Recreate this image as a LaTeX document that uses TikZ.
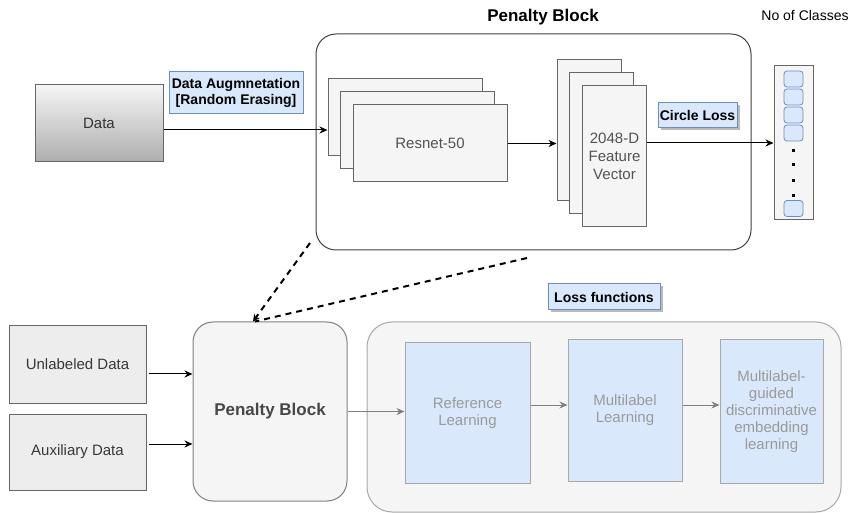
\documentclass[tikz,border=0pt]{standalone}
\usepackage{fontspec}
\setmainfont{Liberation Sans}
\usepackage{tikz}
\usetikzlibrary{arrows.meta,positioning,calc,shadows}
\definecolor{boxgrey}{HTML}{F5F5F5}
\definecolor{edgegrey}{HTML}{666666}
\definecolor{bluefill}{HTML}{DAE8FC}
\definecolor{blueline}{HTML}{6C8EBF}
\definecolor{fadetext}{HTML}{9A9A9A}
\definecolor{fadeline}{HTML}{A8A8A8}

\begin{document}
\begin{tikzpicture}[x=1pt,y=-1pt,
  every node/.style={font=\fontsize{15}{17}\selectfont,inner sep=0pt},
  card/.style={draw=edgegrey,fill=boxgrey,line width=1pt,text=black!68},
  tag/.style={draw=blueline,fill=bluefill,line width=1pt,align=center,
    font=\bfseries\fontsize{14}{16}\selectfont},
  shade/.style={drop shadow={shadow xshift=2.5pt,shadow yshift=-2.5pt,fill=black!45,opacity=.6}},
  lossstep/.style={draw=fadeline,fill=bluefill,line width=1pt,text=fadetext,align=center},
  arr/.style={-{Stealth[length=8pt,width=7pt]},line width=1pt},
  greyarr/.style={arr,draw=black!50}]
  \useasboundingbox (0,0) rectangle (855,513);

  \node[draw=black!75,line width=1pt,rounded corners=20pt,minimum width=435pt,minimum height=216pt] (pen) at (533.5,142) {};
  \node[font=\bfseries\fontsize{17}{19}\selectfont] (pentitle) at (543,17) {Penalty Block};

  \node[draw=edgegrey,line width=1pt,top color=black!4,bottom color=black!32,minimum width=128pt,minimum height=77pt,text=black!80] (data) at (99,123.5) {Data};
  \node[tag,minimum width=134pt,minimum height=42pt] (aug) at (236,93) {Data Augmnetation\\{[Random Erasing]}};

  \foreach \x/\y [count=\i] in {405/117.5,417.5/130.5,430/143.5}
    \node[card,minimum width=154pt,minimum height=77pt] (res\i) at (\x,\y) {};
  \node[text=black!68] (restxt) at (res3) {Resnet-50};

  \foreach \x/\y [count=\i] in {589/130.5,601.5/143,614.5/156}
    \node[card,minimum width=64pt,minimum height=141pt] (feat\i) at (\x,\y) {};
  \node[text=black!68,align=center,font=\fontsize{15}{18}\selectfont] (feattxt) at (feat3) {2048-D\\Feature\\Vector};

  \node[tag,shade,minimum width=79pt,minimum height=25pt] (circ) at (697.5,115.5) {Circle Loss};

  \node (ncls) at (805,15) {\fontsize{14}{16}\selectfont No of Classes};
  \node[card,minimum width=39pt,minimum height=154pt] (cls) at (793.5,143) {};
  \foreach \y [count=\i] in {79,97,115,133,208.5}
    \node[draw=blueline,fill=bluefill,line width=.8pt,rounded corners=3pt,minimum width=19pt,minimum height=16pt] (c\i) at (793.5,\y) {};
  \foreach \y in {151,165,181,196}
    \fill (792,\y-1.5) rectangle ++(3,3);

  \draw[arr] ([yshift=-6.5pt]data.east) coordinate (a1) -- (a1 -| res1.west);
  \draw[arr] (res3.east) -- (res3.east -| feat1.west);
  \draw[arr] (feat3.east |- cls.west) -- (cls.west);

  \node[card,fill=black!7,minimum width=137pt,minimum height=77pt,text=black!78] (unl) at (77.5,364.5) {Unlabeled Data};
  \node[card,fill=black!7,minimum width=137pt,minimum height=76pt,text=black!78,below=10pt of unl] (aux) {Auxiliary Data};
  \node[draw=black!50,fill=boxgrey,line width=1pt,rounded corners=20pt,minimum width=154pt,minimum height=179pt,
    text=black!72,font=\bfseries\fontsize{17}{19}\selectfont] (pb) at (270,411.5) {Penalty Block};

  \node[draw=fadeline,fill=boxgrey,line width=1pt,rounded corners=25pt,minimum width=474pt,minimum height=190pt] (lossbox) at (604,417) {};
  \node[tag,shade,minimum width=112pt,minimum height=26pt] (lossfn) at (604,297) {Loss functions};
  \node[lossstep,minimum width=125pt,minimum height=140pt] (ref) at (467.5,413) {Reference\\Learning};
  \node[lossstep,minimum width=114pt,minimum height=141pt] (mll) at (625,410.5) {Multilabel\\Learning};
  \node[lossstep,minimum width=103pt,minimum height=143pt] (mgd) at (771.5,411.5) {Multilabel-\\guided\\discriminative\\embedding\\learning};

  \draw[arr] ([xshift=2pt,yshift=-9.5pt]unl.east) coordinate (u1) -- (u1 -| pb.west);
  \draw[arr] ([xshift=2pt,yshift=8pt]aux.east) coordinate (u2) -- (u2 -| pb.west);
  \draw[greyarr] (pb.east) -- (pb.east -| ref.west);
  \draw[greyarr] ([yshift=8pt]ref.east) coordinate (r1) -- (r1 -| mll.west);
  \draw[greyarr] ([yshift=5.5pt]mll.east) coordinate (r2) -- (r2 -| mgd.west);

  \coordinate (d1) at (310,243);
  \coordinate (d2) at (527,258);
  \draw[line width=2pt,dash pattern=on 6pt off 5pt,-{Stealth[length=7pt,width=7pt]}] (d1) -- ([xshift=-17pt]pb.north);
  \draw[line width=2pt,dash pattern=on 6pt off 5pt] (d2) -- ([xshift=-15pt]pb.north);
\end{tikzpicture}
\end{document}
